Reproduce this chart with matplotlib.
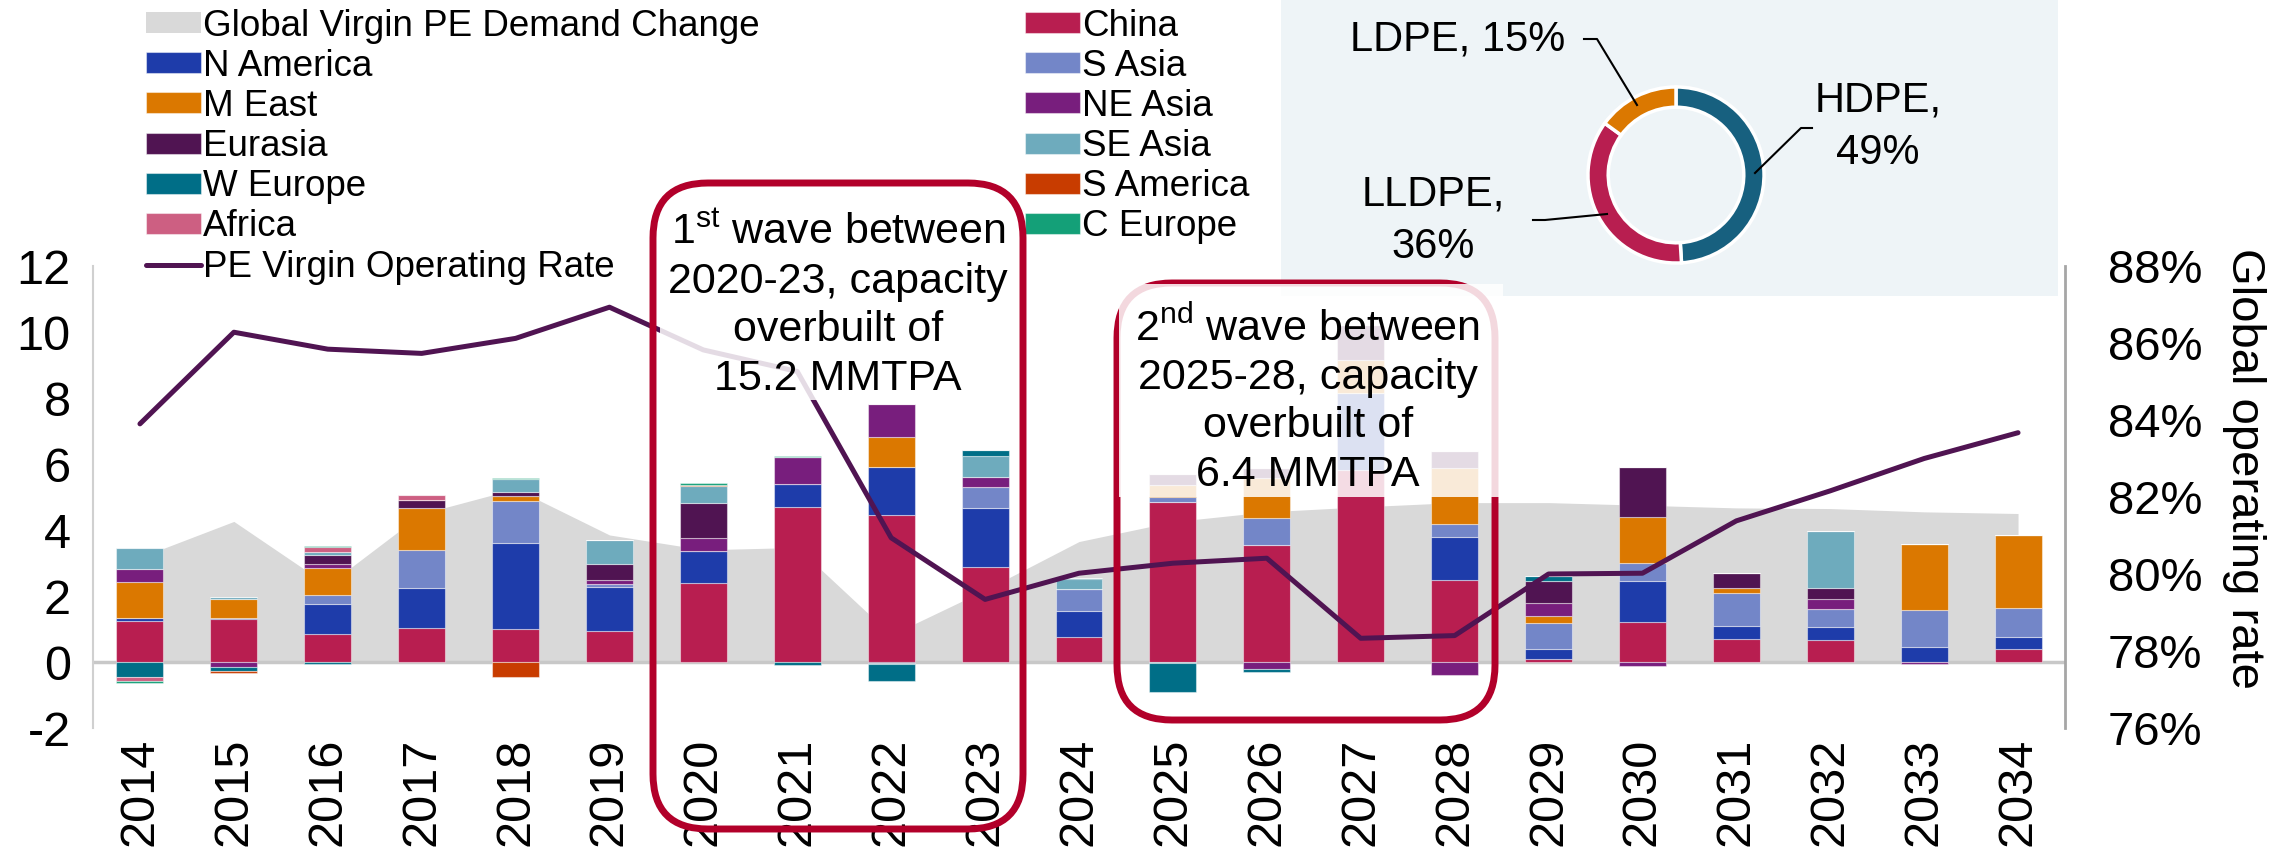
import matplotlib
matplotlib.use("Agg")
import matplotlib.pyplot as plt
import numpy as np
from matplotlib.patches import FancyBboxPatch, Rectangle
from matplotlib.lines import Line2D
from matplotlib.ticker import FuncFormatter

plt.rcParams['font.family'] = ['Liberation Sans', 'DejaVu Sans']
plt.rcParams['mathtext.fontset'] = 'custom'
plt.rcParams['mathtext.rm'] = 'Liberation Sans'
plt.rcParams['axes.unicode_minus'] = False

years = [str(y) for y in range(2014, 2035)]

# capacity additions by region (MMTPA), stacked in this order
china     = [1.24, 1.31, 0.86, 1.02, 1.01, 0.94, 2.38, 4.71, 4.46, 2.87, 0.75, 4.86, 3.56, 5.82, 2.48, 0.08, 1.20, 0.69, 0.66, 0.00, 0.38]
n_america = [0.10, 0.02, 0.91, 1.23, 2.61, 1.34, 0.97, 0.68, 1.44, 1.81, 0.79, 0.00, 0.00, 2.32, 1.31, 0.32, 1.24, 0.39, 0.39, 0.44, 0.39]
s_asia    = [0.00, 0.00, 0.25, 1.15, 1.25, 0.08, 0.00, 0.00, 0.00, 0.61, 0.67, 0.15, 0.81, 0.00, 0.40, 0.79, 0.55, 1.01, 0.56, 1.14, 0.87]
m_east    = [1.08, 0.57, 0.84, 1.28, 0.16, 0.00, 0.00, 0.00, 0.91, 0.00, 0.00, 0.34, 1.20, 1.01, 1.70, 0.21, 1.41, 0.16, 0.00, 2.01, 2.20]
ne_asia   = [0.40, -0.14, 0.11, 0.00, 0.00, 0.12, 0.40, 0.81, 1.02, 0.33, 0.00, 0.00, -0.22, 0.00, -0.38, 0.40, -0.12, 0.00, 0.31, -0.05, 0.00]
eurasia   = [0.00, 0.00, 0.27, 0.23, 0.12, 0.49, 1.07, 0.00, -0.04, 0.00, 0.00, 0.34, 0.30, 1.06, 0.51, 0.66, 1.52, 0.44, 0.33, 0.00, 0.00]
se_asia   = [0.63, 0.07, 0.08, 0.00, 0.40, 0.72, 0.51, 0.00, -0.03, 0.62, 0.30, -0.03, 0.00, 0.00, 0.00, 0.00, 0.00, 0.00, 1.72, 0.00, 0.00]
w_europe  = [-0.45, -0.14, -0.05, 0.00, 0.00, 0.00, 0.00, -0.08, -0.50, 0.17, 0.04, -0.88, -0.07, 0.00, 0.00, 0.15, 0.00, 0.00, 0.00, 0.00, 0.00]
s_america = [0.00, -0.05, 0.00, 0.00, -0.45, 0.00, 0.04, 0.00, 0.00, 0.00, 0.00, 0.00, 0.00, 0.00, 0.00, 0.00, 0.00, 0.00, 0.00, 0.00, 0.00]
africa    = [-0.13, 0.00, 0.15, 0.16, 0.00, 0.00, 0.00, 0.00, 0.00, 0.00, 0.00, 0.00, 0.00, 0.00, 0.00, 0.00, 0.00, 0.00, 0.00, 0.00, 0.00]
c_europe  = [-0.07, 0.00, 0.04, 0.00, 0.04, 0.00, 0.04, 0.04, 0.00, 0.00, 0.00, 0.00, 0.00, 0.00, 0.00, 0.00, 0.00, 0.00, 0.00, 0.00, 0.00]

demand = [3.17, 4.26, 2.33, 4.49, 5.25, 3.85, 3.40, 3.47, 0.82, 2.18, 3.65, 4.25, 4.55, 4.70, 4.83, 4.83, 4.75, 4.67, 4.65, 4.55, 4.50]
op_rate = [83.9, 86.28, 85.84, 85.73, 86.12, 86.93, 85.82, 85.26, 80.94, 79.34, 80.02, 80.28, 80.41, 78.33, 78.40, 80.0, 80.02, 81.38, 82.16, 83.0, 83.67]

series = [
    ("China", china, "#b81e50"),
    ("N America", n_america, "#1e3caa"),
    ("S Asia", s_asia, "#7386c8"),
    ("M East", m_east, "#db7800"),
    ("NE Asia", ne_asia, "#781e7d"),
    ("Eurasia", eurasia, "#501452"),
    ("SE Asia", se_asia, "#6eabbd"),
    ("W Europe", w_europe, "#006e87"),
    ("S America", s_america, "#c83c00"),
    ("Africa", africa, "#cd5f82"),
    ("C Europe", c_europe, "#14a078"),
]

pie_labels = ["HDPE", "LLDPE", "LDPE"]
pie_shares = [49, 36, 15]
pie_colors = ["#17607f", "#b81e50", "#db7800"]

W, H = 22.92, 8.64
fig = plt.figure(figsize=(W, H), dpi=100)
ax = fig.add_axes([93 / 2292, 1 - 728 / 864, 1972 / 2292, 462 / 864])
x = np.arange(len(years))

handles = {}
handles["Global Virgin PE Demand Change"] = ax.fill_between(x, demand, 0, color="#d9d9d9", lw=0, zorder=1)
ax.axhline(0, color="#c8c8c8", lw=2.5, zorder=1.5)

pos = np.zeros(len(years))
neg = np.zeros(len(years))
for name, vals, col in series:
    v = np.array(vals)
    bottom = np.where(v >= 0, pos, neg)
    handles[name] = ax.bar(x, v, 0.5, bottom=bottom, color=col, edgecolor=(1, 1, 1, 0.45), lw=0.8, zorder=2)
    pos = pos + np.clip(v, 0, None)
    neg = neg + np.clip(v, None, 0)

ax.set_xlim(-0.5, len(years) - 0.5)
ax.set_ylim(-2, 12)
ax.set_yticks(range(-2, 13, 2))
ax.set_xticks(x)
ax.set_xticklabels(years, rotation=90, fontsize=35)
ax.tick_params(axis='y', length=0, pad=16, labelsize=35)
ax.tick_params(axis='x', length=0, pad=7)
for s in ["top", "bottom", "right"]:
    ax.spines[s].set_visible(False)
ax.spines["left"].set_color("#d0d0d0")
ax.spines["left"].set_linewidth(1.5)

ax2 = ax.twinx()
handles["PE Virgin Operating Rate"], = ax2.plot(x, op_rate, color="#501452", lw=3.6, solid_capstyle='round', zorder=3)
ax2.set_ylim(76, 88)
ax2.set_yticks(range(76, 89, 2))
ax2.yaxis.set_major_formatter(FuncFormatter(lambda v, p: f"{v:.0f}%"))
ax2.tick_params(axis='y', length=0, pad=31, labelsize=34)
for s in ["top", "bottom", "left"]:
    ax2.spines[s].set_visible(False)
ax2.spines["right"].set_color("#a6a6a6")
ax2.spines["right"].set_linewidth(2)
fig.text(2244 / 2292, 1 - 468 / 864, "Global operating rate", rotation=270, fontsize=34,
         ha="center", va="center")

# legend, Excel-style row order
col1 = ["Global Virgin PE Demand Change", "N America", "M East", "Eurasia", "W Europe", "Africa",
        "PE Virgin Operating Rate"]
col2 = ["China", "S Asia", "NE Asia", "SE Asia", "S America", "C Europe"]
names = col1 + col2
fig.legend([handles[n] for n in names], names, ncol=2, loc="upper left",
           bbox_to_anchor=(146 / 2292, 0.99), frameon=False, fontsize=26.5,
           handlelength=1.5, handleheight=0.5, handletextpad=0.05, labelspacing=0.14,
           columnspacing=7.2, borderpad=0, borderaxespad=0)

tr = fig.dpi_scale_trans


def box_in(x0, y0, x1, y1):
    # pixel box (top-left origin) -> inches (bottom-left origin)
    return x0 / 100, (864 - y1) / 100, (x1 - x0) / 100, (y1 - y0) / 100


red = "#b2002a"

# pie panel
bx = box_in(1281, 0, 2058, 296)
fig.add_artist(Rectangle(bx[:2], bx[2], bx[3], transform=tr, facecolor="#eef4f7", edgecolor="none", zorder=2))

# wave box 1
b = box_in(653, 183, 1023, 829)
fig.add_artist(Rectangle((6.60, (864 - 400) / 100), 3.56, (400 - 190) / 100, transform=tr,
                         facecolor="white", alpha=0.85, edgecolor="none", zorder=5))
fig.add_artist(FancyBboxPatch(b[:2], b[2], b[3], boxstyle="round,pad=0,rounding_size=0.55",
                              transform=tr, facecolor="none", edgecolor=red, lw=5, zorder=6))
fig.text(8.38, (864 - 306) / 100, "1$^{\\mathrm{st}}$ wave between\n2020-23, capacity\noverbuilt of\n15.2 MMTPA",
         transform=tr, fontsize=31, ha="center", va="center", linespacing=1.27, zorder=8)

# wave box 2 (upper part washed out by the text's white fill)
b = box_in(1117, 283, 1495, 720)
fig.add_artist(FancyBboxPatch(b[:2], b[2], b[3], boxstyle="round,pad=0,rounding_size=0.55",
                              transform=tr, facecolor="none", edgecolor=red, lw=5, zorder=6))
fig.add_artist(Rectangle((11.19, (864 - 497) / 100), 3.84, (497 - 284) / 100, transform=tr,
                         facecolor="white", alpha=0.85, edgecolor="none", zorder=7))
fig.text(13.08, (864 - 401) / 100, "2$^{\\mathrm{nd}}$ wave between\n2025-28, capacity\noverbuilt of\n6.4 MMTPA",
         transform=tr, fontsize=31, ha="center", va="center", linespacing=1.27, zorder=8)

# donut
pax = fig.add_axes([(1676 - 100) / 2292, (864 - 175 - 100) / 864, 200 / 2292, 200 / 864], zorder=3)
pax.pie(pie_shares, colors=pie_colors, startangle=90, counterclock=False,
        wedgeprops=dict(width=0.23, edgecolor="white", linewidth=2.5))
pax.set_xlim(-1.136, 1.136)
pax.set_ylim(-1.136, 1.136)
pax.set_aspect("equal")
pax.patch.set_visible(False)

label_pos = {"LDPE": (1458, 39), "HDPE": (1878, 127), "LLDPE": (1433, 221)}
leaders = {"LDPE": [(1584, 39), (1597, 39), (1637, 105)],
           "HDPE": [(1812, 128), (1801, 128), (1755, 173)],
           "LLDPE": [(1533, 220), (1545, 220), (1607, 214)]}
for lab, share in zip(pie_labels, pie_shares):
    lx, ly = label_pos[lab]
    txt = f"{lab}, {share}%" if lab == "LDPE" else f"{lab},\n{share}%"
    fig.text(lx / 100, (864 - ly) / 100, txt, transform=tr, fontsize=30, ha="center", va="center",
             linespacing=1.4, zorder=4)
    pts = leaders[lab]
    fig.add_artist(Line2D([p[0] / 100 for p in pts], [(864 - p[1]) / 100 for p in pts], transform=tr,
                          color="black", lw=1.5, zorder=4))

fig.savefig("out.png", dpi=100)
